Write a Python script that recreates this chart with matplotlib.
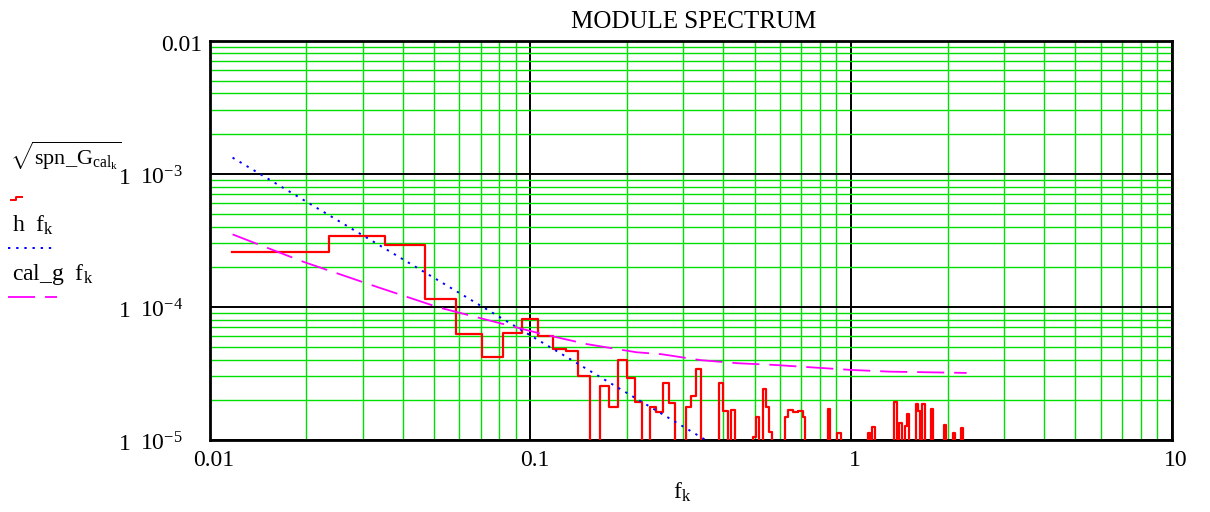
import numpy as np
import matplotlib
matplotlib.use("Agg")
import matplotlib.pyplot as plt
from matplotlib.ticker import LogLocator, NullFormatter, FixedLocator
from matplotlib.lines import Line2D
from matplotlib.transforms import ScaledTranslation

plt.rcParams['font.family'] = ['Liberation Serif', 'DejaVu Serif']
plt.rcParams['mathtext.fontset'] = 'custom'
plt.rcParams['mathtext.rm'] = 'Liberation Serif'
plt.rcParams['mathtext.it'] = 'Liberation Serif:italic'
plt.rcParams['mathtext.bf'] = 'Liberation Serif:bold'

# ---------------- data ----------------
df = 0.011765                 # frequency resolution (Hz)
n_points = 190                # number of spectral lines f_k = k*df
below_axis = 3e-6             # lines below the visible range (< 1e-5)

# sqrt(spn_G_cal_k): only the lines that are visible above 1e-5
red_k = [1, 2, 3, 4, 5, 6, 7, 8, 9, 10, 11, 12, 14, 15, 16, 17, 18, 20, 21, 22,
         23, 26, 27, 28, 33, 34, 36, 42, 43, 45, 46, 47, 53, 54, 55, 56, 57, 58,
         59, 60, 72, 77, 78, 96, 99, 100, 116, 117, 120, 121, 125, 126, 127, 128,
         135, 136, 137, 138, 141, 142, 143, 151, 152, 165, 166, 167, 177, 178,
         187, 188, 189]
red_v = [2.56e-4, 3.43e-4, 2.92e-4, 1.14e-4, 6.3e-5, 4.19e-5, 6.34e-5, 8.1e-5,
         6.08e-5, 4.83e-5, 4.69e-5, 3.01e-5, 2.55e-5, 1.78e-5, 3.97e-5, 2.94e-5,
         1.94e-5, 1.78e-5, 1.63e-5, 2.70e-5, 1.89e-5, 1.78e-5, 2.15e-5, 3.44e-5,
         2.70e-5, 1.65e-5, 1.68e-5, 1.05e-5, 1.50e-5, 2.42e-5, 1.78e-5, 1.15e-5,
         1.48e-5, 1.68e-5, 1.68e-5, 1.61e-5, 1.61e-5, 1.65e-5, 1.65e-5, 1.48e-5,
         1.70e-5, 1.12e-5, 1.12e-5, 1.12e-5, 1.25e-5, 1.25e-5, 1.94e-5, 1.94e-5,
         1.34e-5, 1.34e-5, 1.28e-5, 1.28e-5, 1.56e-5, 1.56e-5, 1.86e-5, 1.86e-5,
         1.65e-5, 1.65e-5, 1.86e-5, 1.86e-5, 1.86e-5, 1.70e-5, 1.70e-5, 1.30e-5,
         1.30e-5, 1.30e-5, 1.12e-5, 1.12e-5, 1.22e-5, 1.22e-5, 1.22e-5]

# h(f_k) - blue dotted
h_f = [0.0118, 0.1057, 0.352, 0.40]
h_v = [1.32e-3, 5.64e-5, 1.0e-5, 8.4e-6]

# cal_g(f_k) - magenta dashed
g_f = [0.0118, 0.0197, 0.0333, 0.0518, 0.1074, 0.125, 0.150, 0.214, 0.256,
       0.339, 0.444, 0.578, 1.0, 1.32, 2.29]
g_v = [3.5e-4, 2.17e-4, 1.41e-4, 9.9e-5, 6.3e-5, 5.8e-5, 5.25e-5, 4.56e-5,
       4.41e-5, 3.98e-5, 3.77e-5, 3.66e-5, 3.36e-5, 3.26e-5, 3.19e-5]

x_ticks = [0.01, 0.1, 1, 10]
x_tick_labels = ["0.01", "0.1", "1", "10"]
y_ticks = [0.01, 1e-3, 1e-4, 1e-5]
y_tick_mant = ["", "1", "1", "1"]
y_tick_exp = ["0.01", "10$^{-3}$", "10$^{-4}$", "10$^{-5}$"]

FS = 17

# ---------------- figure ----------------
W, H = 1210, 512
fig = plt.figure(figsize=(W / 100, H / 100), dpi=100)
L, R, T, B = 209.5, 1172, 40.5, 440
ax = fig.add_axes([L / W, 1 - B / H, (R - L) / W, (B - T) / H])

def fx(px):
    return px / W

def fy(py):
    return 1 - py / H

ax.set_xscale('log')
ax.set_yscale('log')
ax.set_xlim(0.01, 10)
ax.set_ylim(1e-5, 1e-2)

ax.xaxis.set_major_locator(FixedLocator(x_ticks))
ax.xaxis.set_minor_locator(LogLocator(base=10, subs=np.arange(2, 10)))
ax.yaxis.set_major_locator(FixedLocator(y_ticks))
ax.yaxis.set_minor_locator(LogLocator(base=10, subs=np.arange(2, 10)))
ax.xaxis.set_minor_formatter(NullFormatter())
ax.yaxis.set_minor_formatter(NullFormatter())
ax.set_xticklabels(x_tick_labels, fontsize=FS)
ax.set_yticklabels([])
ax.tick_params(which='both', length=0)
ax.tick_params(axis='x', pad=7)
for lab in ax.get_xticklabels():
    lab.set_transform(lab.get_transform() + ScaledTranslation(4 / 100, 0, fig.dpi_scale_trans))

ax.grid(which='minor', color='#00e000', lw=1.0)
ax.grid(which='major', color='black', lw=1.4)
ax.set_axisbelow(True)
for s in ax.spines.values():
    s.set_linewidth(2.0)
    s.set_color('black')

# red step series
vals = [below_axis] * n_points
for k, v in zip(red_k, red_v):
    vals[k - 1] = v
freqs = df * np.arange(1, n_points + 1)
ax.plot(freqs, vals, drawstyle='steps-post', color='#ff0000', lw=1.6, zorder=3)

blue_ls = (0, (1.2, 3.0))
mag_ls = (0, (15, 5.5))
ax.plot(h_f, h_v, color='#0000ff', lw=1.4, ls=blue_ls, zorder=4)
ax.plot(g_f, g_v, color='#ff00ff', lw=1.3, ls=mag_ls, zorder=4)

# y tick labels (Mathcad style), baseline ~10 px below the grid line
ytr = ax.get_yaxis_transform() + ScaledTranslation(0, -10.5 / 100, fig.dpi_scale_trans)
ax.text((202 - L) / (R - L), y_ticks[0], y_tick_exp[0], transform=ytr,
        ha='right', va='baseline', fontsize=FS)
for yv, m, e in zip(y_ticks[1:], y_tick_mant[1:], y_tick_exp[1:]):
    ax.text((183 - L) / (R - L), yv, e, transform=ytr, ha='right',
            va='baseline', fontsize=FS)
    ax.text((131 - L) / (R - L), yv, m, transform=ytr, ha='right',
            va='baseline', fontsize=FS)

# title and x label
fig.text(fx(694), fy(28), "MODULE SPECTRUM", ha='center', va='baseline', fontsize=18)
fig.text(fx(682), fy(499), "f$_{\\mathrm{k}}$", ha='center', va='baseline', fontsize=FS)

# legend on the left
fig.text(fx(10), fy(165), r"$\sqrt{\mathrm{spn\_G}_{\mathrm{cal}_{\mathrm{k}}}}$",
         ha='left', va='baseline', fontsize=16)
fig.add_artist(Line2D([fx(11), fx(16), fx(16), fx(22)],
                      [fy(200), fy(200), fy(197), fy(197)],
                      color='#ff0000', lw=1.4, transform=fig.transFigure))
fig.text(fx(12), fy(232), "h  f$_{\\mathrm{k}}$", ha='left', va='baseline', fontsize=FS)
fig.add_artist(Line2D([fx(8), fx(53)], [fy(248), fy(248)], color='#0000ff',
                      lw=1.4, ls=blue_ls, transform=fig.transFigure))
fig.text(fx(12), fy(280), "cal_g  f$_{\\mathrm{k}}$", ha='left', va='baseline', fontsize=FS)
fig.add_artist(Line2D([fx(8), fx(57)], [fy(297), fy(297)], color='#ff00ff',
                      lw=1.3, ls=mag_ls, transform=fig.transFigure))

fig.savefig("out.png", dpi=100)
